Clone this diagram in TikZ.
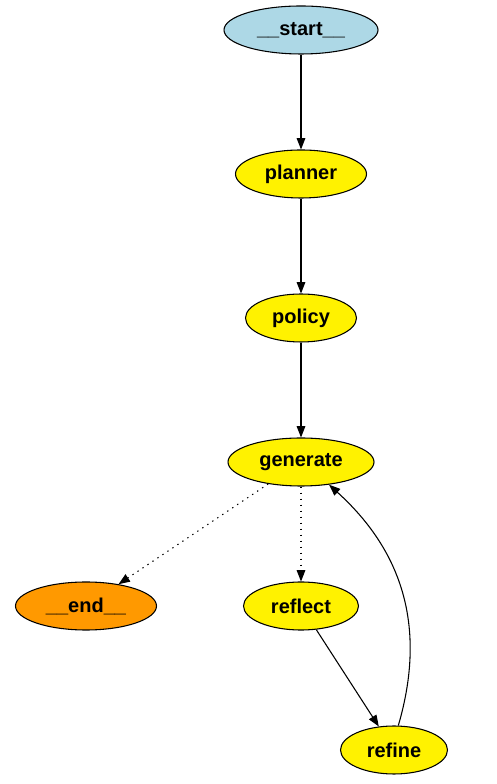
\documentclass[tikz,border=0pt]{standalone}
\usepackage{fontspec}
\setmainfont{Liberation Sans}
\usepackage{tikz}
\usetikzlibrary{shapes.geometric, arrows.meta}

\definecolor{startblue}{RGB}{173,216,230}
\definecolor{endorange}{RGB}{255,153,0}

\begin{document}
\begin{tikzpicture}[x=0.75pt, y=0.75pt,
  graphnode/.style={ellipse, draw=black, line width=0.8pt, inner sep=0pt,
    minimum height=36pt, font=\fontsize{15}{18}\selectfont\bfseries},
  edge/.style={draw, line width=0.8pt, -{Triangle[length=8.5pt, width=6.5pt]}},
  condedge/.style={edge, dash pattern=on 1pt off 3.5pt}]

  \useasboundingbox (0, 0) rectangle (496, 784);

  \node[graphnode, fill=startblue, minimum width=115.5pt] (start) at (301, 754) {\_\_start\_\_};
  \node[graphnode, fill=yellow, minimum width=98.25pt] (planner) at (301, 610) {planner};
  \node[graphnode, fill=yellow, minimum width=83.25pt] (policy) at (301, 466) {policy};
  \node[graphnode, fill=yellow, minimum width=109.5pt] (generate) at (301, 322) {generate};
  \node[graphnode, fill=endorange, minimum width=105.75pt] (end) at (86, 178) {\_\_end\_\_};
  \node[graphnode, fill=yellow, minimum width=86.25pt] (reflect) at (301, 178) {reflect};
  \node[graphnode, fill=yellow, minimum width=80.25pt] (refine) at (394, 34) {refine};

  \draw[edge] (start) -- (planner);
  \draw[edge] (planner) -- (policy);
  \draw[edge] (policy) -- (generate);
  \draw[condedge] (generate) -- (end);
  \draw[condedge] (generate) -- (reflect);
  \draw[edge] (reflect) -- (refine);
  \draw[edge] (refine.80) .. controls (428, 160) and (400, 235) .. (generate.-39);

\end{tikzpicture}
\end{document}
